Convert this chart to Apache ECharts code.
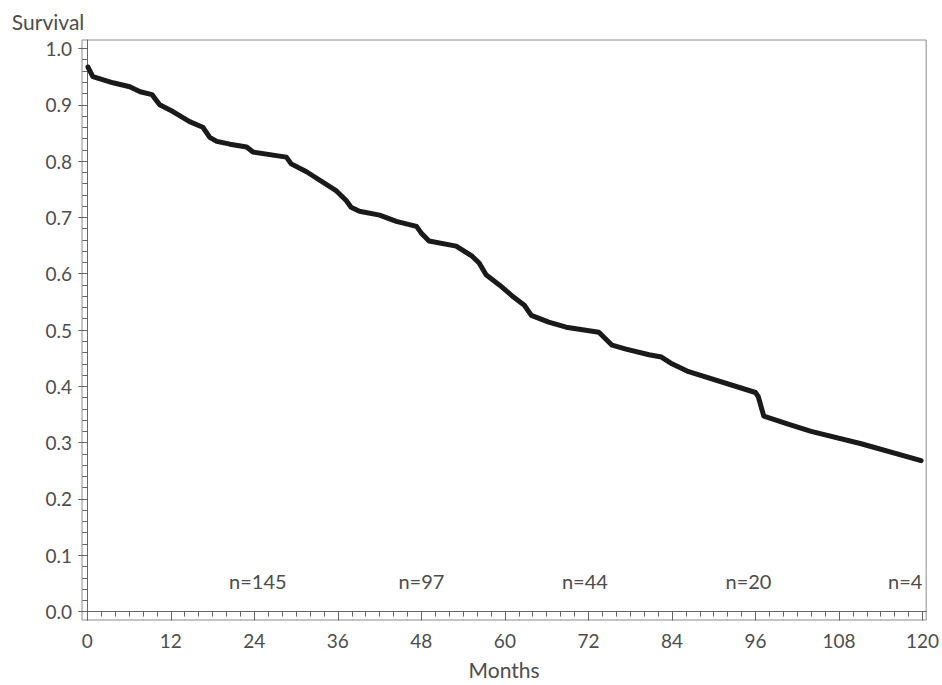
<!DOCTYPE html>
<html>
<head>
<meta charset="utf-8">
<title>Survival</title>
<script src="https://cdn.jsdelivr.net/npm/echarts@6/dist/echarts.min.js"></script>
<style>
  html, body { margin: 0; padding: 0; background: #fff; }
  #chart { width: 942px; height: 685px; }
</style>
</head>
<body>
<div id="chart"></div>
<script>
// survival curve (months, survival)
var months = [0.1, 0.8, 3.7, 6.1, 7.6, 9.3, 10.4, 12.3, 14.7, 16.6, 17.6, 18.6, 20.5, 22.9, 23.8,
  28.6, 29.3, 31.5, 35.8, 37.2, 37.9, 39.1, 42.0, 44.4, 47.3, 48.0, 49.1, 53.0, 55.3, 56.3,
  57.3, 59.2, 61.0, 62.8, 63.8, 66.3, 68.8, 73.5, 75.4, 77.4, 80.7, 82.5, 84.0, 86.4, 96.0,
  96.4, 97.2, 100.7, 104.0, 111.2, 119.8];
var survival = [0.967, 0.950, 0.939, 0.932, 0.923, 0.918, 0.900, 0.888, 0.870, 0.860, 0.842, 0.835, 0.830, 0.825, 0.816,
  0.807, 0.795, 0.781, 0.747, 0.730, 0.718, 0.711, 0.704, 0.693, 0.684, 0.672, 0.658, 0.649, 0.631, 0.619,
  0.598, 0.580, 0.561, 0.544, 0.526, 0.514, 0.505, 0.496, 0.473, 0.466, 0.456, 0.452, 0.440, 0.426, 0.389,
  0.382, 0.347, 0.333, 0.320, 0.298, 0.268];

// numbers at risk
var riskMonths = [24.5, 48, 71.5, 95, 120];
var riskN = [145, 97, 44, 20, 4];

// tick labels
var xTicks = [0, 12, 24, 36, 48, 60, 72, 84, 96, 108, 120];
var yTicks = [0, 0.1, 0.2, 0.3, 0.4, 0.5, 0.6, 0.7, 0.8, 0.9, 1.0];

// minor ticks: every 2 months / every 0.02
var xMinor = [];
for (var i = 0; i <= 120; i += 2) xMinor.push(i);
var yMinor = [];
for (var j = 0; j <= 50; j++) yMinor.push(+(j * 0.02).toFixed(2));

var FONT = 'Lato';
var TXT = '#4d4d4d';
var AXIS = '#666666';

var curve = months.map(function (m, k) { return [m, survival[k]]; });
var risk = riskMonths.map(function (m, k) { return [m, 0.055, riskN[k]]; });

var myChart = echarts.init(document.getElementById('chart'), null, { renderer: 'svg' });

var xBase = { type: 'value', min: -0.76, max: 120.53, position: 'bottom', splitLine: { show: false } };
var yBase = { type: 'value', min: -0.015, max: 1.015, position: 'left', splitLine: { show: false } };

var option = {
  backgroundColor: '#fff',
  animation: false,
  grid: {
    left: 82, top: 40, width: 846, height: 586,
    show: true, borderColor: '#8c8c8c', borderWidth: 1, backgroundColor: 'transparent'
  },
  xAxis: [
    Object.assign({}, xBase, {
      name: 'Months',
      nameLocation: 'middle',
      nameGap: 39,
      nameTextStyle: { color: TXT, fontFamily: FONT, fontSize: 21 },
      axisLine: { show: true, lineStyle: { color: AXIS, width: 1 } },
      axisTick: { show: true, length: 9, customValues: xTicks, lineStyle: { color: AXIS } },
      axisLabel: { customValues: xTicks, margin: 11, color: TXT, fontFamily: FONT, fontSize: 19 }
    }),
    Object.assign({}, xBase, {
      axisLine: { show: false },
      axisTick: { show: true, length: 5, customValues: xMinor, lineStyle: { color: AXIS } },
      axisLabel: { show: false }
    })
  ],
  yAxis: [
    Object.assign({}, yBase, {
      name: 'Survival',
      nameLocation: 'end',
      nameGap: 8,
      nameTextStyle: {
        color: TXT, fontFamily: FONT, fontSize: 21,
        align: 'right', verticalAlign: 'bottom', padding: [0, 3, 0, 0]
      },
      axisLine: { show: true, lineStyle: { color: AXIS, width: 1 } },
      axisTick: { show: true, length: 9, customValues: yTicks, lineStyle: { color: AXIS } },
      axisLabel: {
        customValues: yTicks, margin: 10, color: TXT, fontFamily: FONT, fontSize: 19,
        formatter: function (v) { return v.toFixed(1); }
      }
    }),
    Object.assign({}, yBase, {
      axisLine: { show: false },
      axisTick: { show: true, length: 5, customValues: yMinor, lineStyle: { color: AXIS } },
      axisLabel: { show: false }
    })
  ],
  series: [
    {
      type: 'line',
      data: curve,
      showSymbol: false,
      smooth: false,
      lineStyle: { color: '#1a1a1a', width: 5, join: 'round', cap: 'round' },
      z: 3
    },
    {
      type: 'scatter',
      data: risk.map(function (d, k) {
        return {
          value: d,
          label: { align: k === risk.length - 1 ? 'right' : 'center' }
        };
      }),
      symbolSize: 0,
      itemStyle: { opacity: 1 },
      label: {
        show: true,
        position: 'inside',
        color: TXT,
        opacity: 1,
        fontFamily: FONT,
        fontSize: 20,
        formatter: function (p) { return 'n=' + p.value[2]; }
      },
      silent: true
    }
  ]
};

myChart.setOption(option);
window.addEventListener('resize', function () { myChart.resize(); });
</script>
</body>
</html>
